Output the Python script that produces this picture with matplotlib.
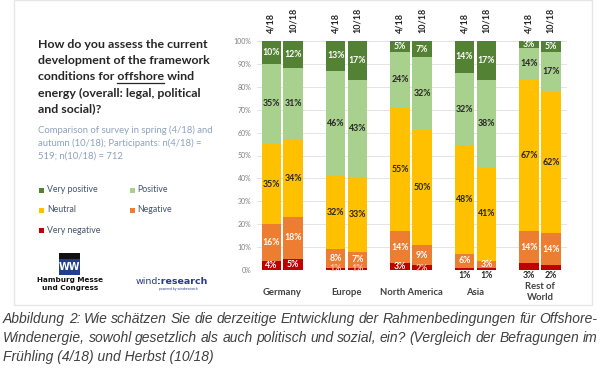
import matplotlib
matplotlib.use("Agg")
import matplotlib.pyplot as plt
from matplotlib.patches import Rectangle
import numpy as np

# ---------------- data ----------------
regions = ["Germany", "Europe", "North America", "Asia", "Rest of\nWorld"]
surveys = ["4/18", "10/18"]
categories = ["Very negative", "Negative", "Neutral", "Positive", "Very positive"]
# values per region: [4/18, 10/18], each [very neg, neg, neutral, pos, very pos]
very_negative = [[4, 5], [1, 1], [3, 2], [1, 1], [3, 2]]
negative = [[16, 18], [8, 7], [14, 9], [6, 3], [14, 14]]
neutral = [[35, 34], [32, 33], [55, 50], [48, 41], [67, 62]]
positive = [[35, 31], [46, 43], [24, 32], [32, 38], [14, 17]]
very_positive = [[10, 12], [13, 17], [5, 7], [14, 17], [3, 5]]
yticks = [0, 10, 20, 30, 40, 50, 60, 70, 80, 90, 100]

colors = ["#C00000", "#ED7D31", "#FFC000", "#A9D18E", "#548235"]
label_colors = ["white", "white", "#262626", "#262626", "white"]

W, H = 600, 377
fig = plt.figure(figsize=(W / 100, H / 100), dpi=100)
fig.patch.set_facecolor("white")

def fx(x):
    return x / W

def fy(y):
    return 1 - y / H

# card background
card = Rectangle((fx(14), fy(305)), fx(592) - fx(14), fy(0) - fy(305),
                 transform=fig.transFigure, facecolor="white",
                 edgecolor="#e6e6e6", linewidth=1.0, zorder=-5)
fig.patches.append(card)

# ---------------- chart ----------------
ax_l, ax_r = 257, 567
ax_t, ax_b = 41, 270
ax = fig.add_axes([fx(ax_l), fy(ax_b), fx(ax_r) - fx(ax_l), fy(ax_t) - fy(ax_b)])
ax.set_zorder(2)
ax.patch.set_alpha(0)
ax.set_xlim(-0.39, 4.42)
ax.set_ylim(0, 100)
for s in ax.spines.values():
    s.set_visible(False)
ax.set_yticks(yticks)
ax.set_yticklabels([f"{v}%" for v in yticks], fontsize=5, color="#7f7f7f",
                   family="Lato")
ax.tick_params(axis="y", length=0, pad=4)
ax.set_xticks([])
ax.yaxis.grid(True, color="#e4e4e4", linewidth=0.7)
ax.set_axisbelow(True)

series = [very_negative, negative, neutral, positive, very_positive]
bw = 0.30
off = 0.17
lab_font = dict(fontsize=6.3, fontweight="bold", family="Lato")
for i, reg in enumerate(regions):
    for j in range(2):
        vals = np.array([s[i][j] for s in series], dtype=float)
        norm = vals / vals.sum() * 100
        x = i + (-off if j == 0 else off)
        bottom = 0
        for k in range(5):
            ax.bar(x, norm[k], bw, bottom=bottom, color=colors[k], linewidth=0)
            cy = bottom + norm[k] / 2
            txt = f"{int(vals[k])}%"
            if k == 0 and i in (3, 4):
                ax.text(x, -2.3, txt, ha="center", va="center",
                        color="#262626", clip_on=False, **lab_font)
            elif k == 0 and norm[k] < 2.5:
                ax.text(x, 0.8, txt, ha="center", va="center",
                        color="#f6c8ac", clip_on=False, **lab_font)
            else:
                ax.text(x, cy, txt, ha="center", va="center",
                        color=label_colors[k], **lab_font)
            bottom += norm[k]
        ax.text(x, 103.5, surveys[j], rotation=90, ha="center", va="bottom",
                fontsize=6.5, fontweight="bold", color="#262626", family="Lato",
                clip_on=False)
    ax.text(i, -9.7, reg, ha="center", va="center", fontsize=6.8,
            fontweight="bold", color="#404040", family="Lato",
            linespacing=1.3, clip_on=False)

# ---------------- left panel ----------------
title_lines = ["How do you assess the current",
               "development of the framework",
               "conditions for offshore wind",
               "energy (overall: legal, political",
               "and social)?"]
title_y = [45, 61, 77, 93, 109]
tfont = dict(fontsize=8.9, fontweight="bold", color="#262626", family="Lato",
             va="center", ha="left")
title_texts = []
for line, y in zip(title_lines, title_y):
    title_texts.append(fig.text(fx(38), fy(y), line, **tfont))

sub_lines = ["Comparison of survey in spring (4/18) and",
             "autumn (10/18); Participants: n(4/18) =",
             "519; n(10/18) = 712"]
for k, line in enumerate(sub_lines):
    fig.text(fx(38), fy(130 + 13 * k), line, fontsize=6.8, color="#8EA2BE",
             family="Lato", va="center", ha="left")

leg_items = [("Very positive", colors[4], 42, 190), ("Positive", colors[3], 132, 190),
             ("Neutral", colors[2], 42, 210), ("Negative", colors[1], 132, 210),
             ("Very negative", colors[0], 42, 230)]
for name, c, x, y in leg_items:
    fig.patches.append(Rectangle((fx(x - 2.5), fy(y + 2.5)), 5 / W, 5 / H,
                                 transform=fig.transFigure, facecolor=c,
                                 edgecolor="none"))
    fig.text(fx(x + 5), fy(y), name, fontsize=6.3, color="#44546A",
             family="Lato", va="center", ha="left")

# logos (as text)
fig.patches.append(Rectangle((fx(59), fy(275)), 21 / W, 22 / H,
                             transform=fig.transFigure, facecolor="#1F3F8F",
                             edgecolor="none"))
fig.patches.append(Rectangle((fx(59), fy(259)), 21 / W, 6 / H,
                             transform=fig.transFigure, facecolor="#111111",
                             edgecolor="none"))
fig.text(fx(69.5), fy(267), "WW", fontsize=7, color="white", fontweight="bold",
         ha="center", va="center", family="DejaVu Sans")
fig.text(fx(70), fy(280), "Hamburg Messe", fontsize=5.2, fontweight="bold",
         color="#111111", ha="center", va="center", family="DejaVu Sans")
fig.text(fx(70), fy(288), "und Congress", fontsize=5.2, fontweight="bold",
         color="#111111", ha="center", va="center", family="DejaVu Sans")
fig.text(fx(136), fy(281), "wind", fontsize=6.8, color="#2B3A8C",
         ha="left", va="center", family="DejaVu Sans")
fig.text(fx(157), fy(281), ":research", fontsize=6.8, color="#2B3A8C",
         fontweight="bold", ha="left", va="center", family="DejaVu Sans")
fig.text(fx(178), fy(289), "powered by windresearch", fontsize=2.2,
         color="#2B3A8C", ha="center", va="center", family="DejaVu Sans")

# ---------------- caption ----------------
cap_lines = ["Abbildung 2: Wie schätzen Sie die derzeitige Entwicklung der Rahmenbedingungen für Offshore-",
             "Windenergie, sowohl gesetzlich als auch politisch und sozial, ein? (Vergleich der Befragungen im",
             "Frühling (4/18) und Herbst (10/18)"]
cap_y = [319, 338, 357]
cfont = dict(fontsize=10.0, style="italic", color="#3f3f3f",
             family="Liberation Sans", va="center", ha="left")

fig.canvas.draw()
renderer = fig.canvas.get_renderer()

# underline "offshore"
bb_full = fig.text(fx(38), fy(77), "conditions for offshore", alpha=0, **tfont)
bb_word = fig.text(fx(38), fy(77), "offshore", alpha=0, **tfont)
e_full = bb_full.get_window_extent(renderer)
e_word = bb_word.get_window_extent(renderer)
bb_full.remove()
bb_word.remove()
x_end = e_full.x1
x_start = x_end - e_word.width
fig.add_artist(plt.Line2D([x_start / fig.bbox.width, x_end / fig.bbox.width],
                          [fy(83), fy(83)], transform=fig.transFigure,
                          color="#262626", linewidth=0.9))

x0, x1 = 3, 597
for li, (line, y) in enumerate(zip(cap_lines, cap_y)):
    if li < 2:
        words = line.split(" ")
        tmp = [fig.text(0, 0, w, alpha=0, **cfont) for w in words]
        widths = [t.get_window_extent(renderer).width for t in tmp]
        for t in tmp:
            t.remove()
        gap = (x1 - x0 - sum(widths)) / (len(words) - 1)
        x = x0
        for w, wd in zip(words, widths):
            fig.text(fx(x), fy(y), w, **cfont)
            x += wd + gap
    else:
        fig.text(fx(x0), fy(y), line, **cfont)

fig.savefig("out.png", dpi=100, facecolor="white")
